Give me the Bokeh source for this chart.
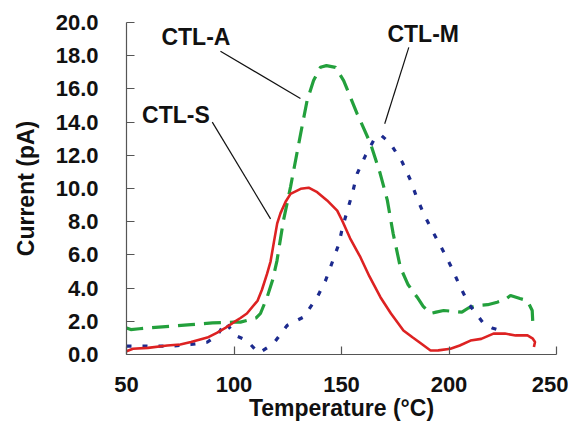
from bokeh.plotting import figure
from bokeh.models import Range1d, FixedTicker, NumeralTickFormatter, ColumnDataSource
from bokeh.core.properties import value
from bokeh.embed import file_html
from bokeh.resources import INLINE

# ---- data ----
s_temp = [50, 53, 60, 69, 75, 80, 87.6, 92, 96, 99.8, 103, 106, 111, 113, 115.4, 117,
          118.6, 120.1, 121.6, 124, 126.3, 131, 134.7, 138.7, 143.3, 148, 150.3, 154, 158.8,
          163, 168.1, 173, 178.8, 183, 187, 191.4, 195, 200.7, 205, 210, 215, 220.7,
          226, 231, 236.5, 239, 240, 239.5]
s_cur = [0.2, 0.35, 0.4, 0.54, 0.6, 0.75, 1.02, 1.3, 1.6, 1.93, 2.2, 2.47, 3.25, 3.9,
         4.87, 5.6, 6.8, 7.9, 8.5, 9.2, 9.68, 9.98, 10.05, 9.78, 9.28, 8.67, 8.07, 7.0,
         5.86, 4.7, 3.45, 2.47, 1.45, 1.04, 0.66, 0.24, 0.25, 0.35, 0.54, 0.84, 0.94,
         1.26, 1.26, 1.15, 1.15, 0.95, 0.75, 0.45]

a_temp = [50, 52, 56, 60, 70, 80, 90, 100, 103, 110.3, 112.3, 115.4, 118, 120, 123,
          126.3, 131, 134, 137, 140.2, 143, 147.2, 151, 157.3, 163.5, 168, 171.3, 174,
          177.4, 181, 185.2, 188, 191.4, 194, 197.5, 202, 206, 209, 213, 218, 222.4,
          226, 228.6, 233, 236.4, 238.7, 239]
a_cur = [1.6, 1.5, 1.55, 1.6, 1.7, 1.8, 1.9, 1.95, 1.95, 2.2, 2.47, 3.45, 4.5, 5.66,
         8.07, 10.1, 13.3, 15.3, 16.5, 17.3, 17.4, 17.3, 16.5, 14.5, 12.7, 10.9, 9.3,
         7.3, 5.24, 4.2, 3.45, 2.9, 2.47, 2.55, 2.65, 2.6, 2.55, 2.8, 2.95, 3.0, 3.15,
         3.3, 3.55, 3.37, 3.25, 2.65, 1.87]

m_temp = [50, 53, 60, 70, 79.8, 87.5, 92.2, 96, 100.7, 106, 111.5, 118.4, 124.7, 132.3,
          138.7, 142.6, 145.7, 148.8, 150.3, 152.7, 155, 157.3, 161.2, 165.8, 168.5,
          172.8, 178.2, 182.1, 185.2, 189, 193, 197.6, 201.5, 205.3, 209.2, 213, 216.2,
          220, 224]
m_cur = [0.5, 0.5, 0.5, 0.5, 0.6, 0.74, 1.14, 1.95, 1.14, 0.84, 0.08, 0.66, 1.75, 2.25,
         3.45, 4.46, 5.56, 6.67, 7.57, 8.67, 9.68, 10.9, 12.0, 13.1, 13.2, 12.7, 11.6,
         10.5, 9.38, 8.27, 7.27, 6.16, 5.16, 4.05, 3.05, 2.4, 1.85, 1.6, 1.45]

x_ticks = [50, 100, 150, 200, 250]
y_ticks = [0, 2, 4, 6, 8, 10, 12, 14, 16, 18, 20]

label_names = ["CTL-A", "CTL-S", "CTL-M"]
label_x = [82.3, 73.0, 188.0]
label_y = [19.1, 14.45, 19.28]
leader_x0 = [93.7, 89.9, 181.3]
leader_y0 = [18.27, 14.0, 18.5]
leader_x1 = [130.9, 117.0, 170.1]
leader_y1 = [15.42, 8.17, 13.9]

FONT = "Liberation Sans"
AXIS_COLOR = "#555555"

p = figure(width=568, height=425, output_backend="svg", toolbar_location=None,
           x_range=Range1d(50, 250), y_range=Range1d(0, 20),
           min_border_left=126, min_border_right=12, min_border_top=22,
           min_border_bottom=71)
p.outline_line_color = None
p.grid.visible = False
p.background_fill_color = "white"

p.line(a_temp, a_cur, line_color="#23a03c", line_width=3.2, line_dash="17 9")
p.line(m_temp, m_cur, line_color="#1c2a8e", line_width=3.2, line_dash="5 11")
p.line(s_temp, s_cur, line_color="#dd2222", line_width=2.6)

p.segment(x0=leader_x0, y0=leader_y0, x1=leader_x1, y1=leader_y1,
          line_color="#111111", line_width=1.2)
src = ColumnDataSource(dict(x=label_x, y=label_y, t=label_names))
p.text(x="x", y="y", text="t", source=src, text_font=value(FONT),
       text_font_style="bold", text_font_size="23px", text_align="center",
       text_baseline="middle", text_color="#111111")

for ax in (p.xaxis[0], p.yaxis[0]):
    ax.axis_line_color = AXIS_COLOR
    ax.axis_line_width = 1.2
    ax.major_tick_line_color = AXIS_COLOR
    ax.major_tick_line_width = 1.2
    ax.major_tick_in = 8
    ax.major_tick_out = 0
    ax.minor_tick_line_color = None
    ax.major_label_text_font = FONT
    ax.major_label_text_font_style = "bold"
    ax.major_label_text_font_size = "22px"
    ax.major_label_text_color = "#111111"
    ax.axis_label_text_font = FONT
    ax.axis_label_text_font_style = "bold"
    ax.axis_label_text_font_size = "23px"
    ax.axis_label_text_color = "#111111"

p.xaxis[0].ticker = FixedTicker(ticks=x_ticks)
p.yaxis[0].ticker = FixedTicker(ticks=y_ticks)
p.xaxis[0].formatter = NumeralTickFormatter(format="0")
p.yaxis[0].formatter = NumeralTickFormatter(format="0.0")
p.xaxis[0].major_label_standoff = 22
p.yaxis[0].major_label_standoff = 28
p.xaxis[0].axis_label = "Temperature (\u00b0C)"
p.yaxis[0].axis_label = "Current (pA)"
p.xaxis[0].axis_label_standoff = 0
p.yaxis[0].axis_label_standoff = 14

open("out.html", "w").write(file_html(p, INLINE))
